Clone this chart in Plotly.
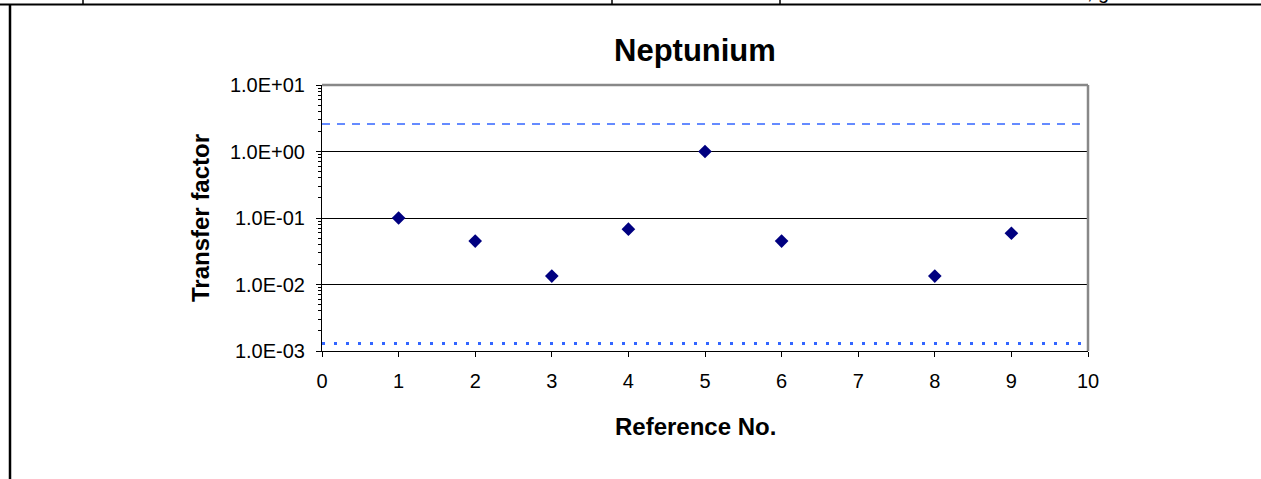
import plotly.graph_objects as go

# ---- data ----
ref_no = [1, 2, 3, 4, 5, 6, 8, 9]
transfer_factor = [0.1, 0.045, 0.0134, 0.068, 1.0, 0.045, 0.0134, 0.059]
upper_line = 2.6
lower_line = 1.3e-3
x_range_vals = [0, 10]
y_tick_vals = [1e-3, 1e-2, 1e-1, 1e0, 1e1]
y_tick_text = ["1.0E-03", "1.0E-02", "1.0E-01", "1.0E+00", "1.0E+01"]
minor_vals = [k * 10 ** e for e in range(-3, 1) for k in range(2, 10)]

W, H = 1261, 479
L, R, T, B = 322, 1088, 85, 351
FONT = "Liberation Sans, Arial, sans-serif"


def px(x):
    return (x - L) / (R - L)


def py(y):
    return (B - y) / (B - T)


fig = go.Figure()

fig.add_trace(go.Scatter(
    x=x_range_vals, y=[upper_line, upper_line], mode="lines",
    line=dict(color="#3366FF", width=1.5, dash="8px,7px"),
    hoverinfo="skip", showlegend=False))
fig.add_trace(go.Scatter(
    x=x_range_vals, y=[lower_line, lower_line], mode="lines",
    line=dict(color="#3366FF", width=3, dash="3px,9px"),
    hoverinfo="skip", showlegend=False))
fig.add_trace(go.Scatter(
    x=ref_no, y=transfer_factor, mode="markers",
    marker=dict(symbol="diamond", size=10.5, color="#000080",
                line=dict(width=0)),
    showlegend=False))

shapes = []
shapes.append(dict(type="line", xref="paper", yref="paper", x0=0, x1=1, y0=1, y1=1,
                   line=dict(color="#888888", width=2.5)))
shapes.append(dict(type="line", xref="paper", yref="paper", x0=1, x1=1, y0=0, y1=1,
                   line=dict(color="#888888", width=2.5)))
shapes.append(dict(type="line", xref="paper", yref="paper", x0=px(0), x1=px(W),
                   y0=py(4.5), y1=py(4.5), line=dict(color="black", width=2)))
for xv in [83, 612, 780]:
    shapes.append(dict(type="line", xref="paper", yref="paper", x0=px(xv), x1=px(xv),
                       y0=py(0), y1=py(4.5), line=dict(color="black", width=1.5)))
shapes.append(dict(type="line", xref="paper", yref="paper", x0=px(10), x1=px(10),
                   y0=py(4), y1=py(H), line=dict(color="black", width=2.5)))

annotations = [
    dict(text="<b>Neptunium</b>", xref="paper", yref="paper", x=px(695), y=py(51),
         xanchor="center", yanchor="middle", showarrow=False,
         font=dict(family=FONT, size=31, color="black")),
    dict(text="<b>Reference No.</b>", xref="paper", yref="paper", x=px(695), y=py(427),
         xanchor="center", yanchor="middle", showarrow=False,
         font=dict(family=FONT, size=24, color="black")),
    dict(text="<b>Transfer factor</b>", xref="paper", yref="paper", x=px(200), y=py(218),
         xanchor="center", yanchor="middle", showarrow=False, textangle=-90,
         font=dict(family=FONT, size=24, color="black")),
    dict(text=", g", xref="paper", yref="paper", x=px(1111), y=py(-8),
         xanchor="right", yanchor="middle", showarrow=False,
         font=dict(family=FONT, size=20, color="black")),
]

fig.update_layout(
    width=W, height=H,
    margin=dict(l=L, r=W - R, t=T, b=H - B, autoexpand=False),
    paper_bgcolor="white", plot_bgcolor="white",
    font=dict(family=FONT, size=20, color="black"),
    shapes=shapes, annotations=annotations,
    showlegend=False,
)
fig.update_xaxes(
    range=[0, 10], tickmode="linear", tick0=0, dtick=1,
    ticks="outside", ticklen=5, tickcolor="black", tickwidth=1,
    showline=True, linecolor="black", linewidth=1,
    showgrid=False, zeroline=False, ticklabelstandoff=7,
    tickfont=dict(family=FONT, size=20, color="black"),
)
fig.update_yaxes(
    type="log", range=[-3, 1],
    tickmode="array", tickvals=y_tick_vals, ticktext=y_tick_text,
    ticks="outside", ticklen=5, tickcolor="black", tickwidth=1,
    showline=True, linecolor="black", linewidth=1,
    showgrid=True, gridcolor="black", gridwidth=1, zeroline=False,
    minor=dict(tickvals=minor_vals, ticks="outside", ticklen=3,
               tickcolor="black", showgrid=False),
    ticklabelstandoff=7,
    tickfont=dict(family=FONT, size=20, color="black"),
)

fig.write_html(
    "out.html",
    config={"displayModeBar": False},
    post_script="document.body.style.margin='0';document.body.style.overflow='hidden';",
)
